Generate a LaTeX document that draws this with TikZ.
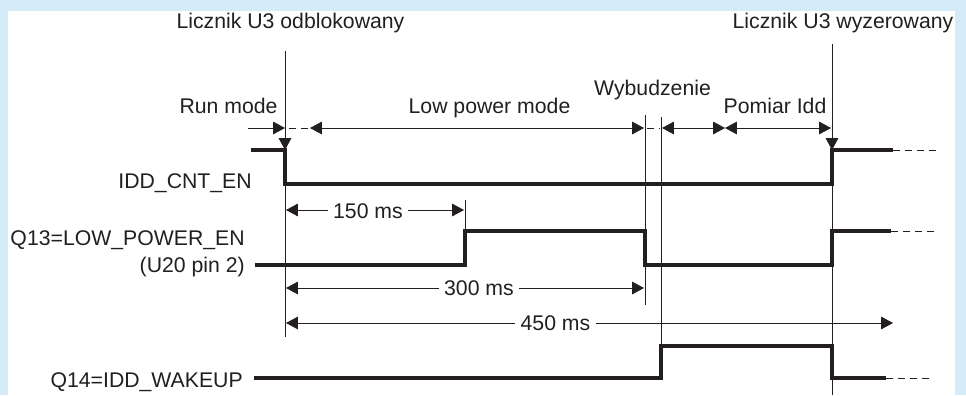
\documentclass[tikz,border=0pt]{standalone}
\usepackage{fontspec}
\setmainfont{Liberation Sans}
\usetikzlibrary{arrows.meta}
\definecolor{bgblue}{RGB}{212,235,248}
\definecolor{ink}{RGB}{35,31,32}

\begin{document}
\begin{tikzpicture}[
  x=0.025cm, y=-0.025cm,
  every node/.style={font=\fontsize{15.1pt}{18pt}\selectfont, text=ink, inner sep=0pt},
  lbl/.style={anchor=base},
  sig/.style={draw=ink, line width=2.2pt},
  thin/.style={draw=ink, line width=0.7pt},
  cont/.style={thin, dash pattern=on 5pt off 3.5pt},
  tip/.style={-{Triangle[length=8.5pt,width=9pt]}},
  dim/.style={thin, {Triangle[length=8.5pt,width=9pt]}-{Triangle[length=8.5pt,width=9pt]}},
  val/.style={anchor=base, fill=white, inner xsep=4pt, inner ysep=2pt},
]
% panel
\fill[bgblue] (0,0) rectangle (966,395);
\fill[white] (8,11) rectangle (955,395);

% time marks
\draw[thin] (285,51) -- (285,337);
\draw[thin] (465,200) -- (465,231);
\draw[thin] (645,115) -- (645,305);
\draw[thin] (661,117) -- (661,346);
\draw[thin] (832,44) -- (832,395);
\draw[thin, tip] (285,120) -- (285,150);
\draw[thin, tip] (832,120) -- (832,150);

% phases
\draw[thin, tip] (248,128) -- (285,128);
\draw[cont] (289,128) -- (310,128);
\draw[dim] (310,128) -- (644,128);
\draw[cont] (647,128) -- (660,128);
\draw[dim] (662,128) -- (725,128);
\draw[dim] (725,128) -- (831,128);

\node[lbl] (licznikOn) at (290.5,28) {Licznik U3 odblokowany};
\node[lbl] (licznikRst) at (843,28) {Licznik U3 wyzerowany};
\node[lbl] (runMode) at (228.5,113) {Run mode};
\node[lbl] (lowMode) at (489.5,113) {Low power mode};
\node[lbl] (wakeMode) at (652.5,95) {Wybudzenie};
\node[lbl] (measMode) at (775,113) {Pomiar Idd};

% signals
\node[anchor=base east] (cntEn) at (252,188) {IDD\_CNT\_EN};
\draw[sig] (251,150) -- (285,150) -- (285,184) -- (832,184) -- (832,150) -- (893,150);
\draw[cont] (893,150) -- (938,150);

\node[anchor=base east] (lowEn) at (245,245) {Q13=LOW\_POWER\_EN};
\node[anchor=base east] (lowPin) at (245,272) {(U20 pin 2)};
\draw[sig] (255,265) -- (465,265) -- (465,231) -- (645,231) -- (645,265) -- (832,265) -- (832,231) -- (891,231);
\draw[cont] (891,231) -- (936,231);

\node[anchor=base east] (wakeup) at (243,387) {Q14=IDD\_WAKEUP};
\draw[sig] (254,378) -- (661,378) -- (661,346) -- (832,346) -- (832,378) -- (886,378);
\draw[cont] (886,378) -- (931,378);

% durations
\draw[dim] (286,210) -- (464,210);
\node[val] (t150) at (368,218) {150 ms};
\draw[dim] (286,288) -- (644,288);
\node[val] (t300) at (479,295.5) {300 ms};
\draw[dim] (286,323) -- (893,323);
\node[val] (t450) at (555.5,330) {450 ms};
\end{tikzpicture}
\end{document}
